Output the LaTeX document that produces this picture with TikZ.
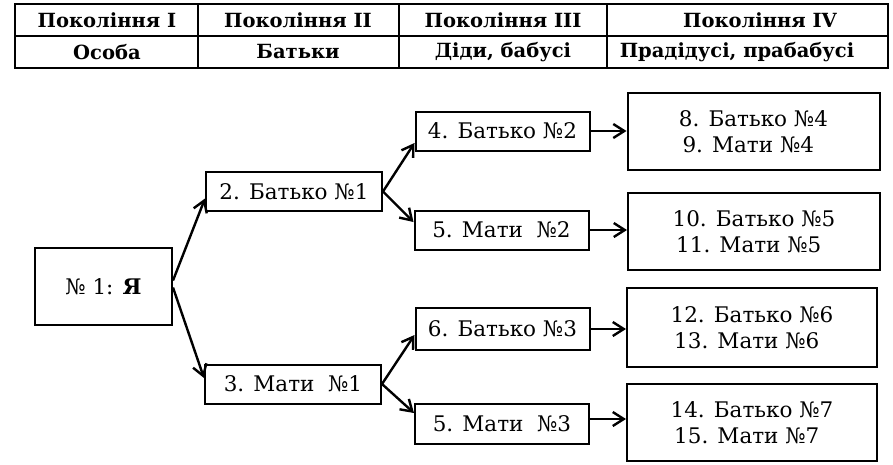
\documentclass[tikz,border=0pt]{standalone}
\usepackage{fontspec}
\setmainfont{DejaVu Serif}
\usetikzlibrary{arrows.meta,calc}
\begin{document}
\begin{tikzpicture}[x=1pt,y=-1pt,
  box/.style={draw,line width=2pt,inner sep=0pt,font=\fontsize{21.5}{26}\selectfont},
  bigbox/.style={box,align=left,minimum width=252pt,minimum height=77pt},
  midbox/.style={box,minimum width=174pt,minimum height=39pt},
  hdr/.style={font=\bfseries\fontsize{19.5}{22}\selectfont,inner sep=0pt},
  conn/.style={line width=2.4pt,-{Straight Barb[length=11pt,width=14pt]}}]
\useasboundingbox (0,0) rectangle (893,464);
% table
\draw[line width=2.8pt] (15,4) rectangle (888,68);
\draw[line width=2.2pt] (15,36) -- (888,36);
\draw[line width=2.2pt] (198,4) -- (198,68);
\draw[line width=2.2pt] (399,4) -- (399,68);
\draw[line width=2.2pt] (607,4) -- (607,68);
\node[hdr] (h1) at (107,20) {Покоління І};
\node[hdr] (h2) at (298,20) {Покоління ІІ};
\node[hdr] (h3) at (503,20) {Покоління ІІІ};
\node[hdr] (h4) at (760,20) {Покоління ІV};
\node[hdr] (s1) at (107,52) {Особа};
\node[hdr] (s2) at (298,52) {Батьки};
\node[hdr] (s3) at (503,52) {Діди, бабусі};
\node[hdr] (s4) at (737,52) {Прадідусі, прабабусі};
% tree
\node[box,minimum width=137pt,minimum height=77pt] (n1) at (103.5,286.5) {№ 1: \textbf{Я}};
\node[midbox,minimum width=176pt] (n2) at (294,191.5) {2. Батько №1};
\node[midbox,minimum width=176pt] (n3) at (293,384) {3. Мати~~№1};
\node[midbox] (n4) at (502.5,131) {4. Батько №2};
\node[midbox] (n5) at (501.5,230) {5. Мати~~№2};
\node[midbox,minimum height=42pt] (n6) at (502.5,329) {6. Батько №3};
\node[midbox,minimum height=40pt] (n7) at (502,424) {5. Мати~~№3};
\node[bigbox] (r1) at (753.5,131.5) {8. Батько №4\\\,9. Мати №4};
\node[bigbox] (r2) at (754,231.5) {10. Батько №5\\\,11. Мати №5};
\node[bigbox,minimum width=250pt,minimum height=79pt] (r3) at (752,327.5) {12. Батько №6\\\,13. Мати №6};
\node[bigbox,minimum width=250pt] (r4) at (752,422.5) {14. Батько №7\\\,15. Мати №7};
% connectors
\draw[conn] ([yshift=6pt]n1.east) -- ([yshift=-7pt]n2.west);
\draw[conn] ([yshift=-1pt]n1.east) -- ([yshift=6pt]n3.west);
\draw[conn] (n2.east) -- ([yshift=-12pt]n4.west);
\draw[conn] (n2.east) -- ([yshift=8pt]n5.west);
\draw[conn] (n3.east) -- ([yshift=-6pt]n6.west);
\draw[conn] (n3.east) -- ([yshift=11pt]n7.west);
\draw[conn] (n4.east) -- (n4.east -| r1.west);
\draw[conn] (n5.east) -- (n5.east -| r2.west);
\draw[conn] (n6.east) -- (n6.east -| r3.west);
\draw[conn] ([yshift=5pt]n7.east) -- ([yshift=5pt]n7.east -| r4.west);
\end{tikzpicture}
\end{document}
